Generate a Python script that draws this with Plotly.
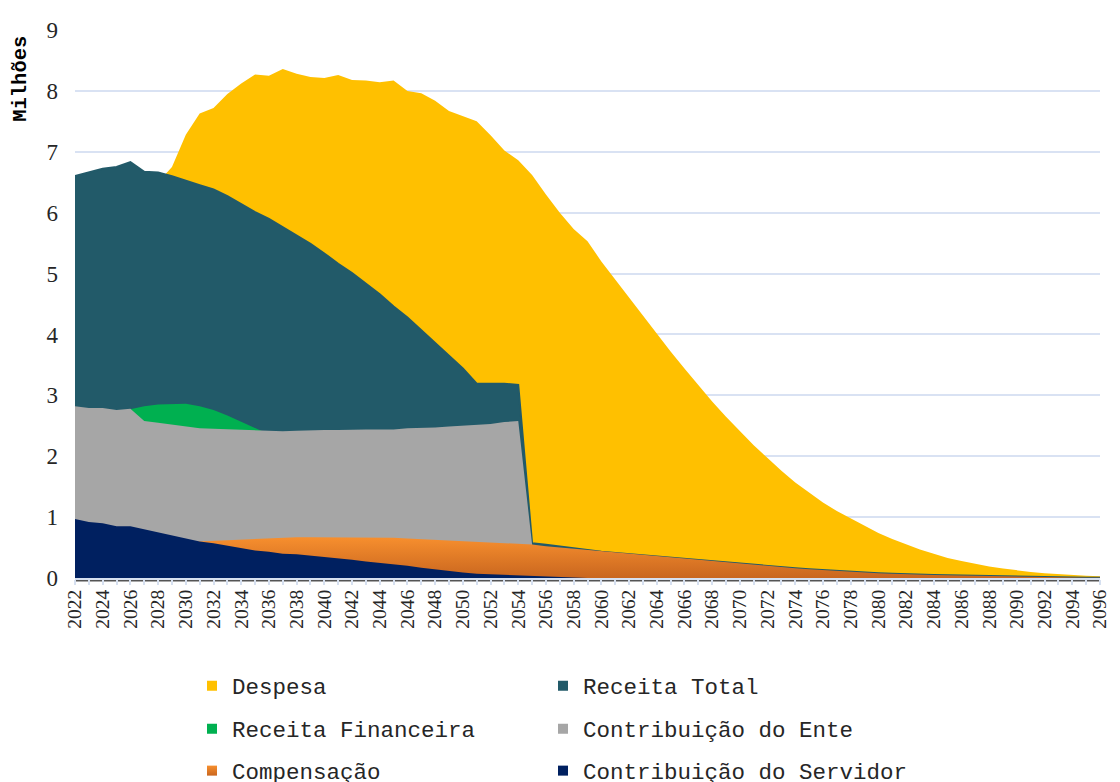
import plotly.graph_objects as go

years = list(range(2022, 2097))

despesa = [5.80, 5.90, 6.00, 6.10, 6.20, 6.35, 6.50, 6.75, 7.28, 7.63,
           7.72, 7.95, 8.12, 8.27, 8.25, 8.36, 8.28, 8.23, 8.21, 8.26,
           8.18, 8.17, 8.14, 8.17, 8.00, 7.96, 7.84, 7.67, 7.58, 7.50,
           7.27, 7.02, 6.86, 6.62, 6.30, 6.00, 5.73, 5.53, 5.20, 4.90,
           4.60, 4.30, 4.00, 3.72, 3.44, 3.17, 2.90, 2.65, 2.41, 2.18,
           1.97, 1.76, 1.57, 1.40, 1.24, 1.10, 0.98, 0.85, 0.74, 0.64,
           0.55, 0.47, 0.40, 0.33, 0.28, 0.23, 0.19, 0.155, 0.125, 0.10,
           0.08, 0.062, 0.048, 0.037, 0.03]

compensacao = [0.50, 0.52, 0.53, 0.54, 0.55, 0.56, 0.57, 0.58, 0.59, 0.61,
               0.62, 0.63, 0.64, 0.65, 0.66, 0.67, 0.67, 0.67, 0.67, 0.67,
               0.67, 0.66, 0.66, 0.66, 0.65, 0.64, 0.63, 0.62, 0.61, 0.60,
               0.59, 0.57, 0.56, 0.55, 0.52, 0.50, 0.47, 0.45, 0.43, 0.41,
               0.39, 0.37, 0.355, 0.34, 0.32, 0.30, 0.28, 0.26, 0.24, 0.22,
               0.20, 0.18, 0.16, 0.145, 0.13, 0.115, 0.10, 0.09, 0.08, 0.07,
               0.06, 0.055, 0.05, 0.045, 0.04, 0.035, 0.03, 0.025, 0.02, 0.017,
               0.014, 0.011, 0.008, 0.005, 0.003]

receita_total = [6.60, 6.66, 6.72, 6.75, 6.83, 6.67, 6.66, 6.60, 6.52, 6.45,
                 6.38, 6.27, 6.14, 6.01, 5.90, 5.76, 5.63, 5.49, 5.33, 5.16,
                 5.01, 4.84, 4.66, 4.46, 4.28, 4.07, 3.86, 3.65, 3.44, 3.19,
                 3.19, 3.19, 3.17, 0.57, 0.545, 0.515, 0.48, 0.45, 0.43, 0.41,
                 0.39, 0.37, 0.355, 0.34, 0.32, 0.30, 0.28, 0.26, 0.24, 0.22,
                 0.20, 0.18, 0.16, 0.145, 0.13, 0.115, 0.10, 0.09, 0.08, 0.07,
                 0.06, 0.055, 0.05, 0.045, 0.04, 0.035, 0.03, 0.025, 0.02, 0.017,
                 0.014, 0.011, 0.008, 0.005, 0.003]

receita_financeira = [2.55, 2.60, 2.65, 2.70, 2.77, 2.82, 2.85, 2.86, 2.86, 2.82,
                      2.76, 2.67, 2.57, 2.46, 2.36, 2.25, 2.10, 1.90, 1.70, 1.50,
                      1.30, 1.10, 0.90, 0.70, 0.50, 0.35, 0.20, 0.10, 0.05, 0.0,
                      0.0, 0.0, 0.0] + [0.0] * 42

contrib_ente = [2.82, 2.79, 2.79, 2.76, 2.78, 2.58, 2.55, 2.52, 2.48, 2.46,
                2.45, 2.44, 2.43, 2.42, 2.42, 2.41, 2.42, 2.43, 2.43, 2.43,
                2.44, 2.44, 2.44, 2.44, 2.46, 2.46, 2.47, 2.49, 2.50, 2.51,
                2.53, 2.56, 2.58, 0.55] + [0.0] * 41

contrib_servidor = [0.97, 0.92, 0.90, 0.85, 0.85, 0.80, 0.75, 0.70, 0.64, 0.60,
                    0.57, 0.53, 0.49, 0.45, 0.43, 0.40, 0.39, 0.37, 0.35, 0.32,
                    0.30, 0.27, 0.25, 0.22, 0.20, 0.17, 0.14, 0.12, 0.09, 0.07,
                    0.06, 0.055, 0.05, 0.03, 0.02, 0.01] + [0.0] * 39

for arr in (despesa, compensacao, receita_total, receita_financeira, contrib_ente, contrib_servidor):
    assert len(arr) == len(years), len(arr)

C_DESP = "#FFC000"
C_TOT = "#225A69"
C_FIN = "#00B050"
C_ENTE = "#A6A6A6"
C_COMP_TOP = "#F78F2E"
C_COMP_BOT = "#C9661F"
C_SERV = "#002060"

W, H = 1112, 774

fig = go.Figure()

def area(y, color, lw=0):
    return go.Scatter(x=years, y=y, mode="lines", fill="tozeroy",
                      fillcolor=color, line=dict(color=color, width=lw),
                      showlegend=False, hoverinfo="skip")

fig.add_trace(area(despesa, C_DESP))
fig.add_trace(area(receita_total, C_TOT, 2))
fig.add_trace(area(receita_financeira, C_FIN))
fig.add_trace(area(contrib_ente, C_ENTE))
fig.add_trace(go.Scatter(x=years, y=compensacao, mode="lines", fill="tozeroy",
                         line=dict(color=C_COMP_TOP, width=0),
                         fillgradient=dict(type="vertical",
                                           colorscale=[[0, C_COMP_BOT], [1, C_COMP_TOP]]),
                         showlegend=False, hoverinfo="skip"))
fig.add_trace(area(contrib_servidor, C_SERV))

# (name, colour, gradient colour, column, row)
legend_items = [
    ("Despesa", C_DESP, None, 0, 0),
    ("Receita Total", C_TOT, None, 1, 0),
    ("Receita Financeira", C_FIN, None, 0, 1),
    ("Contribuição do Ente", C_ENTE, None, 1, 1),
    ("Compensação", C_COMP_TOP, C_COMP_BOT, 0, 2),
    ("Contribuição do Servidor", C_SERV, None, 1, 2),
]
col_x = [184, 535]
row_y = [678, 721, 763]
legend_font = dict(family="Liberation Mono", size=22.5, color="#262626")

legend_layouts = {}
for i, (name, col, grad, c, r) in enumerate(legend_items):
    lid = "legend" if i == 0 else f"legend{i + 1}"
    marker = dict(symbol="square", size=10, color=col, line=dict(width=0))
    if grad:
        marker["gradient"] = dict(type="vertical", color=grad)
    fig.add_trace(go.Scatter(x=[None], y=[None], mode="markers", name=name,
                             marker=marker, legend=lid, showlegend=True))
    legend_layouts[lid] = dict(orientation="h", xref="container", yref="container",
                               x=col_x[c] / W, xanchor="left",
                               y=1 - row_y[r] / H, yanchor="middle",
                               font=legend_font, bgcolor="rgba(0,0,0,0)",
                               borderwidth=0, itemclick=False)

fig.update_layout(
    width=W, height=H,
    margin=dict(l=67, r=10, t=14, b=204),
    paper_bgcolor="white", plot_bgcolor="white",
    showlegend=True,
    **legend_layouts,
    xaxis=dict(
        range=[2022, 2096], tick0=2022, dtick=2, tickangle=-90,
        showgrid=False, zeroline=False,
        showline=True, linecolor="#D6E0F0", linewidth=2,
        ticks="outside", ticklen=5, tickcolor="#D6E0F0", tickwidth=2,
        minor=dict(dtick=1, tick0=2022, ticks="outside", ticklen=5,
                   tickcolor="#D6E0F0", tickwidth=2, showgrid=False),
        tickfont=dict(family="Liberation Serif", size=19.5, color="#262626"),
        ticklabelstandoff=-3, ticklabeloverflow="allow",
    ),
    yaxis=dict(
        range=[0, 9], dtick=1, showgrid=True, gridcolor="#D9E2F3", gridwidth=2,
        zeroline=False, showline=False, ticks="",
        tickfont=dict(family="Liberation Serif", size=23, color="#262626"),
        ticklabelstandoff=16,
    ),
    annotations=[dict(text="<b>Milhões</b>", xref="paper", yref="paper",
                      x=-(67 - 12) / 1035, y=(570 - 64) / 556, xanchor="center", yanchor="middle",
                      textangle=-90, showarrow=False,
                      font=dict(family="Liberation Mono", size=20.5, color="#000000"))],
    shapes=[dict(type="line", xref="paper", yref="paper", x0=0, x1=1,
                 y0=-0.0045, y1=-0.0045, line=dict(color="#555555", width=2), layer="below")],
)

fig.write_html("out.html")
